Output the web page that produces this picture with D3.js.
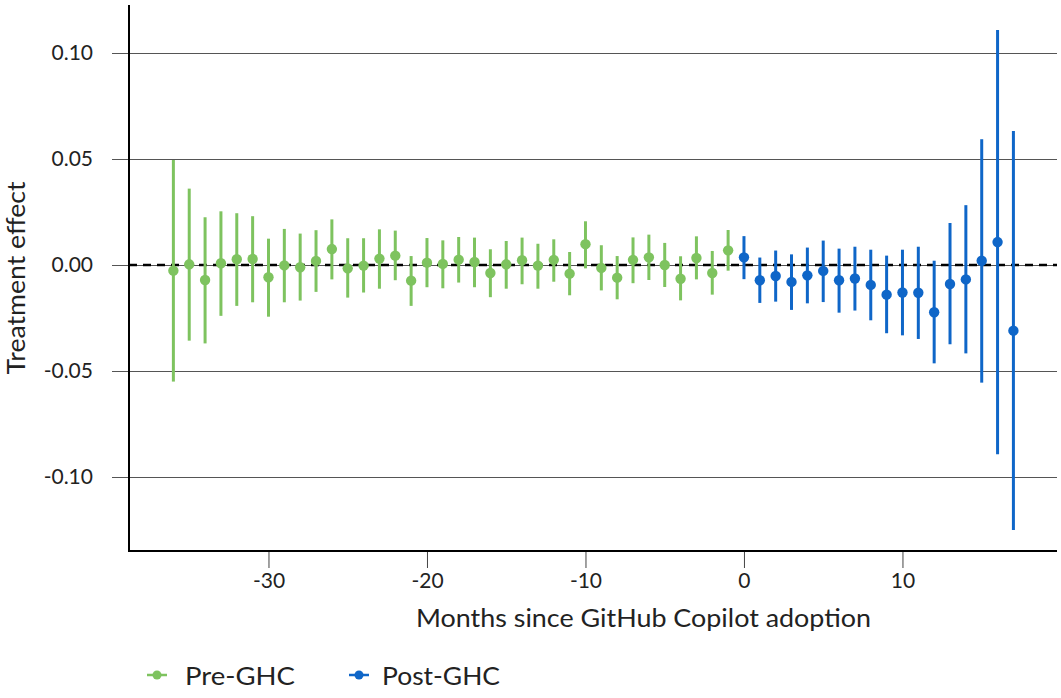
<!DOCTYPE html>
<html><head><meta charset="utf-8">
<script src="https://cdn.jsdelivr.net/npm/d3@7"></script>
<style>body{margin:0;background:#fff;} svg{display:block;} text{font-family:Lato, "Noto Sans", sans-serif; fill:#222;}</style>
</head><body>
<script>
const months = [-36,-35,-34,-33,-32,-31,-30,-29,-28,-27,-26,-25,-24,-23,-22,-21,-20,-19,-18,-17,-16,-15,-14,-13,-12,-11,-10,-9,-8,-7,-6,-5,-4,-3,-2,-1,0,1,2,3,4,5,6,7,8,9,10,11,12,13,14,15,16,17];
const estimate = [-0.0027,0.0003,-0.0071,0.0008,0.0027,0.0028,-0.0058,-0.0002,-0.0011,0.0019,0.0075,-0.0016,-0.0003,0.0030,0.0044,-0.0074,0.0011,0.0005,0.0025,0.0014,-0.0038,0.0003,0.0022,-0.0003,0.0024,-0.0041,0.0098,-0.0014,-0.0060,0.0024,0.0036,0.0000,-0.0065,0.0033,-0.0038,0.0069,0.0036,-0.0072,-0.0052,-0.0080,-0.0049,-0.0028,-0.0072,-0.0064,-0.0094,-0.0140,-0.0130,-0.0131,-0.0223,-0.0090,-0.0068,0.0020,0.0108,-0.0310];
const upper = [0.0495,0.0360,0.0225,0.0253,0.0244,0.0230,0.0124,0.0170,0.0148,0.0164,0.0215,0.0126,0.0126,0.0168,0.0162,0.0042,0.0127,0.0116,0.0132,0.0129,0.0074,0.0113,0.0129,0.0100,0.0121,0.0061,0.0206,0.0093,0.0042,0.0130,0.0143,0.0104,0.0041,0.0135,0.0066,0.0165,0.0136,0.0035,0.0068,0.0050,0.0082,0.0115,0.0077,0.0086,0.0072,0.0044,0.0072,0.0086,0.0020,0.0198,0.0282,0.0593,0.1108,0.0632];
const lower = [-0.0550,-0.0357,-0.0370,-0.0240,-0.0193,-0.0176,-0.0244,-0.0176,-0.0168,-0.0127,-0.0068,-0.0154,-0.0130,-0.0112,-0.0072,-0.0193,-0.0105,-0.0110,-0.0083,-0.0105,-0.0152,-0.0112,-0.0091,-0.0112,-0.0079,-0.0143,-0.0016,-0.0120,-0.0162,-0.0086,-0.0071,-0.0104,-0.0167,-0.0068,-0.0140,-0.0027,-0.0067,-0.0179,-0.0173,-0.0212,-0.0181,-0.0175,-0.0225,-0.0215,-0.0261,-0.0322,-0.0332,-0.0349,-0.0464,-0.0374,-0.0417,-0.0555,-0.0893,-0.1250];
const xTicks = [-30,-20,-10,0,10];
const xTickLabels = ["-30","-20","-10","0","10"];
const yTicks = [-0.10,-0.05,0.00,0.05,0.10];
const yTickLabels = ["-0.10","-0.05","0.00","0.05","0.10"];
const seriesNames = ["Pre-GHC","Post-GHC"];
const seriesColors = ["#7ec35f","#0f66c8"];

const W = 1061, H = 698;
const svg = d3.select("body").append("svg").attr("width", W).attr("height", H);
const x = d3.scaleLinear().domain([-38.8, 19.75]).range([129, 1057]);
const y = d3.scaleLinear().domain([-0.1349, 0.1226]).range([551, 5]);

const data = months.map((m,i)=>({m, est: estimate[i], lo: lower[i], hi: upper[i], s: m < 0 ? 0 : 1}));

// y axis ticks (outside) + labels
const yAxis = svg.append("g").attr("transform","translate(129,0)")
  .call(d3.axisLeft(y).tickValues(yTicks).tickFormat((d,i)=>yTickLabels[i]).tickSize(17).tickPadding(19));
yAxis.select(".domain").remove();
yAxis.selectAll(".tick").attr("transform", d=>`translate(0,${Math.round(y(d))+0.5})`);
yAxis.selectAll(".tick line").attr("stroke","#555").attr("stroke-width",1);
yAxis.selectAll(".tick text").attr("font-size",21).attr("fill","#222").style("font-family","Lato, sans-serif");
// gridlines
svg.append("g").selectAll("line").data(yTicks).join("line")
  .attr("x1",129).attr("x2",1057).attr("y1",d=>Math.round(y(d))+0.5).attr("y2",d=>Math.round(y(d))+0.5)
  .attr("stroke","#555").attr("stroke-width",1);

// zero dashed line
svg.append("line").attr("x1",129).attr("x2",1057).attr("y1",y(0)).attr("y2",y(0))
  .attr("stroke","#000").attr("stroke-width",2.5).attr("stroke-dasharray","8,6");

// x axis
const xAxis = svg.append("g").attr("transform","translate(0,551)")
  .call(d3.axisBottom(x).tickValues(xTicks).tickFormat((d,i)=>xTickLabels[i]).tickSize(17).tickPadding(5));
xAxis.select(".domain").remove();
xAxis.selectAll(".tick line").attr("stroke","#444").attr("stroke-width",1);
xAxis.selectAll(".tick text").attr("font-size",21).attr("fill","#222").style("font-family","Lato, sans-serif");

// error bars and points
const g = svg.append("g");
g.selectAll("line.err").data(data).join("line").attr("class","err")
  .attr("x1",d=>x(d.m)).attr("x2",d=>x(d.m)).attr("y1",d=>y(d.hi)).attr("y2",d=>y(d.lo))
  .attr("stroke",d=>seriesColors[d.s]).attr("stroke-width",3);
g.selectAll("circle").data(data).join("circle")
  .attr("cx",d=>x(d.m)).attr("cy",d=>y(d.est)).attr("r",5.2)
  .attr("fill",d=>seriesColors[d.s]);

// axis lines
svg.append("line").attr("x1",129).attr("x2",129).attr("y1",5).attr("y2",552).attr("stroke","#000").attr("stroke-width",2);
svg.append("line").attr("x1",128).attr("x2",1057).attr("y1",551).attr("y2",551).attr("stroke","#000").attr("stroke-width",2);

// titles
svg.append("text").attr("x",643.5).attr("y",627).attr("text-anchor","middle").attr("font-size",25)
  .attr("textLength",455).attr("lengthAdjust","spacingAndGlyphs").text("Months since GitHub Copilot adoption");
svg.append("text").attr("transform","translate(25,278) rotate(-90)").attr("text-anchor","middle").attr("font-size",25)
  .attr("textLength",193).attr("lengthAdjust","spacingAndGlyphs").text("Treatment effect");

// legend
const legX = [147, 349];
const legTextX = [185, 382];
const legLen = [110, 118];
const leg = svg.append("g").selectAll("g").data(seriesNames).join("g")
  .attr("transform",(d,i)=>`translate(${legX[i]},675)`);
leg.append("line").attr("x1",0).attr("x2",20).attr("stroke",(d,i)=>seriesColors[i]).attr("stroke-width",2.5);
leg.append("circle").attr("cx",10).attr("r",4.5).attr("fill",(d,i)=>seriesColors[i]);
leg.append("text").attr("x",(d,i)=>legTextX[i]-legX[i]).attr("y",10).attr("font-size",25)
  .attr("textLength",(d,i)=>legLen[i]).attr("lengthAdjust","spacingAndGlyphs").text(d=>d);
</script>
</body></html>
